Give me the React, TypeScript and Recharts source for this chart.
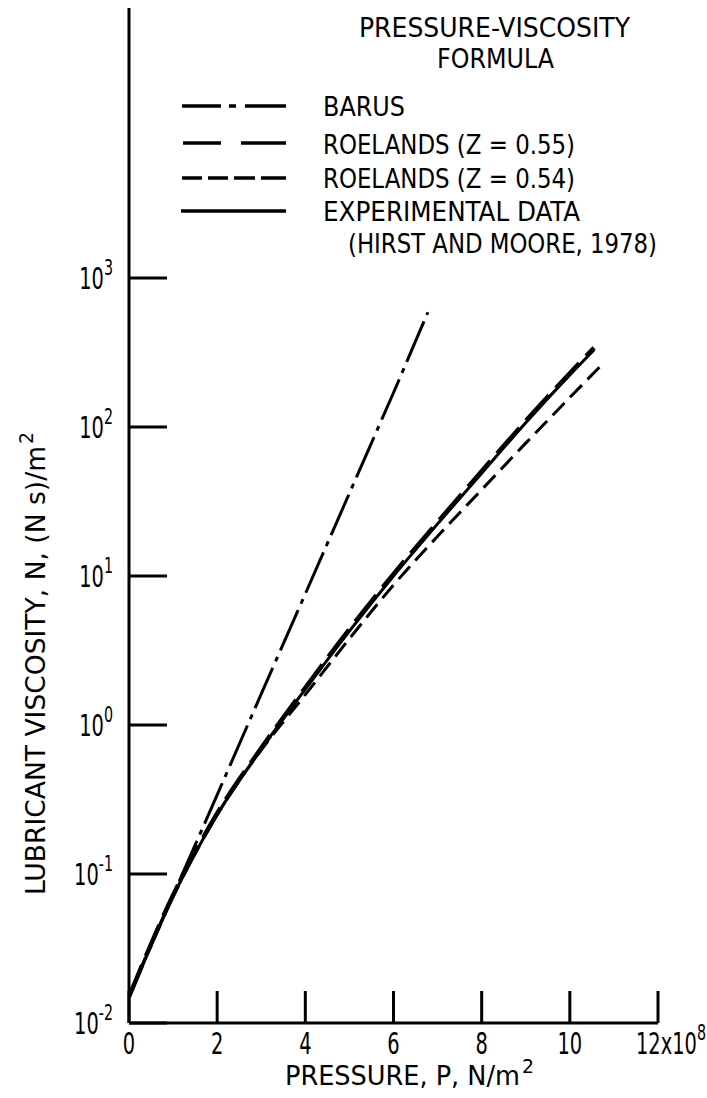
import React from 'react';
import { LineChart, Line, XAxis, YAxis } from 'recharts';

const FONT = "'Liberation Sans Narrow', 'Arial Narrow', 'DejaVu Sans Condensed', 'Liberation Sans', sans-serif";

// pressure in 1e8 N/m^2, viscosity in (N s)/m^2
const barusP = [0, 1, 2, 3, 4, 5, 6, 6.78];
const barusEta = [0.015, 0.072, 0.34, 1.62, 7.6, 36, 170, 590];

const roelands55P = [0, 1, 2, 3, 4, 5, 6, 7, 8, 9, 10, 10.55];
const roelands55Eta = [0.015, 0.072, 0.255, 0.7, 1.78, 4.4, 10.3, 23, 50.5, 110, 230, 340];

const roelands54P = [0, 1, 2, 3, 4, 5, 6, 7, 8, 9, 10, 10.77];
const roelands54Eta = [0.015, 0.071, 0.25, 0.68, 1.6, 3.8, 8.7, 18.5, 38, 78, 158, 270];

const experimentalP = [0, 1, 2, 3, 4, 5, 6, 7, 8, 9, 10, 10.55];
const experimentalEta = [0.015, 0.071, 0.25, 0.69, 1.74, 4.27, 10, 22.4, 49, 107, 224, 330];

const xTicks = [0, 2, 4, 6, 8, 10, 12];
const yTicks = [0.01, 0.1, 1, 10, 100, 1000];
const yTickExp = ['-2', '-1', '0', '1', '2', '3'];

const legendLabels = ['BARUS', 'ROELANDS (Z = 0.55)', 'ROELANDS (Z = 0.54)', 'EXPERIMENTAL DATA'];

const zip = (p: number[], eta: number[]) => p.map((v, i) => ({ p: v, eta: eta[i] }));

const txt = { fontFamily: FONT, fill: '#000', lengthAdjust: 'spacingAndGlyphs' } as any;
const SX = 0.72; // squeeze for the condensed lettering

const XTick = (props: any) => {
  const { x, y, payload } = props;
  const v = payload.value;
  return (
    <g>
      <line x1={x} y1={y} x2={x} y2={y - 32} stroke="#000" strokeWidth={3} />
      {v === 12 ? (
        <text transform={`translate(706, ${y + 31}) scale(${SX}, 1)`} textAnchor="end" fontSize={30} fontFamily={FONT} fill="#000">
          12x10<tspan dy={-14} fontSize={22}>8</tspan>
        </text>
      ) : (
        <text transform={`translate(${x}, ${y + 31}) scale(${SX}, 1)`} textAnchor="middle" fontSize={30} fontFamily={FONT} fill="#000">
          {v}
        </text>
      )}
    </g>
  );
};

const YTick = (props: any) => {
  const { x, y, index } = props;
  return (
    <g>
      <line x1={x} y1={y} x2={x + 38} y2={y} stroke="#000" strokeWidth={3} />
      <text transform={`translate(113, ${y + 11}) scale(${SX}, 1)`} textAnchor="end" fontSize={30} fontFamily={FONT} fill="#000">
        10<tspan dy={-14} fontSize={22}>{yTickExp[index]}</tspan>
      </text>
    </g>
  );
};

const Overlay = () => (
  <svg width={707} height={1098} style={{ position: 'absolute', left: 0, top: 0, pointerEvents: 'none' }}>
    <g fontSize={26}>
      <text {...txt} x={359} y={37} textLength={271}>PRESSURE-VISCOSITY</text>
      <text {...txt} x={437} y={68} textLength={117}>FORMULA</text>
      <text {...txt} x={323} y={116} textLength={82}>{legendLabels[0]}</text>
      <text {...txt} x={323} y={154} textLength={252}>{legendLabels[1]}</text>
      <text {...txt} x={323} y={188} textLength={252}>{legendLabels[2]}</text>
      <text {...txt} x={323} y={221} textLength={257}>{legendLabels[3]}</text>
      <text {...txt} x={348} y={253} textLength={309}>(HIRST AND MOORE, 1978)</text>
    </g>
    <g stroke="#000" strokeWidth={3.5}>
      <line x1={182} y1={106} x2={286} y2={106} strokeDasharray="39 8 7 9 41" />
      <line x1={183} y1={143} x2={286} y2={143} strokeDasharray="38 20 45" />
      <line x1={182} y1={178} x2={286} y2={178} strokeDasharray="20 6 20 6 21 6 25" />
      <line x1={181} y1={211} x2={286} y2={211} />
    </g>
    <g transform="translate(45, 895) rotate(-90)">
      <text {...txt} x={0} y={0} fontSize={27} textLength={449}>LUBRICANT VISCOSITY, N, (N s)/m</text>
      <text {...txt} x={451} y={-12} fontSize={20} textLength={12}>2</text>
    </g>
    <text {...txt} x={285} y={1085} fontSize={26} textLength={235}>PRESSURE, P, N/m</text>
    <text {...txt} x={522} y={1073} fontSize={19} textLength={12}>2</text>
  </svg>
);

export default function App() {
  return (
    <div style={{ position: 'absolute', left: 0, top: 0, width: 707, height: 1098, background: '#fff' }}>
      <LineChart width={707} height={1098} margin={{ top: 8, right: 49, bottom: 45, left: 69 }}>
        <XAxis
          type="number"
          dataKey="p"
          domain={[0, 12]}
          ticks={xTicks}
          allowDataOverflow
          height={30}
          tickSize={0}
          tickMargin={0}
          tickLine={false}
          axisLine={{ stroke: '#000', strokeWidth: 3 }}
          tick={<XTick />}
          interval={0}
        />
        <YAxis
          type="number"
          dataKey="eta"
          scale="log"
          domain={[0.01, 65000]}
          ticks={yTicks}
          allowDataOverflow
          width={60}
          tickSize={0}
          tickMargin={0}
          tickLine={false}
          axisLine={{ stroke: '#000', strokeWidth: 3 }}
          tick={<YTick />}
          interval={0}
        />
        <Line
          data={zip(experimentalP, experimentalEta)}
          dataKey="eta"
          type="monotone"
          stroke="#000"
          strokeWidth={3}
          dot={false}
          isAnimationActive={false}
        />
        <Line
          data={zip(roelands55P, roelands55Eta)}
          dataKey="eta"
          type="monotone"
          stroke="#000"
          strokeWidth={4.5}
          strokeDasharray="34 10"
          dot={false}
          isAnimationActive={false}
        />
        <Line
          data={zip(roelands54P, roelands54Eta)}
          dataKey="eta"
          type="monotone"
          stroke="#000"
          strokeWidth={3}
          strokeDasharray="17 8"
          dot={false}
          isAnimationActive={false}
        />
        <Line
          data={zip(barusP, barusEta)}
          dataKey="eta"
          type="linear"
          stroke="#000"
          strokeWidth={3}
          strokeDasharray="44 7 5 7"
          dot={false}
          isAnimationActive={false}
        />
      </LineChart>
      <Overlay />
    </div>
  );
}
